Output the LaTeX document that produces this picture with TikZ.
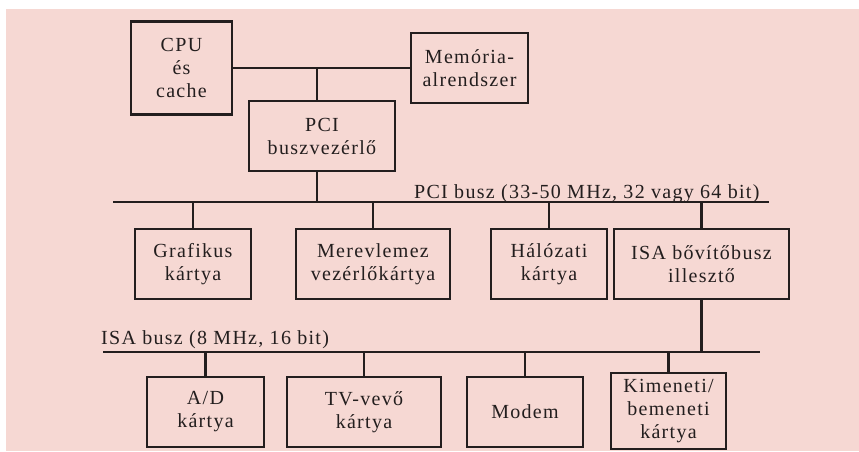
\documentclass[tikz,border=0pt]{standalone}
\usepackage{fontspec}
\setmainfont{Liberation Serif}[LetterSpace=6.5]
\definecolor{bgpink}{RGB}{246,216,211}
\definecolor{ink}{RGB}{35,30,30}
\begin{document}
\begin{tikzpicture}[x=1pt,y=-1pt,
  box/.style={draw=ink,line width=2.8pt,align=center,inner sep=0pt,
    font=\fontsize{20}{23}\selectfont,text=ink},
  wire/.style={draw=ink,line width=2.8pt},
  lbl/.style={font=\fontsize{20}{23}\selectfont,text=ink,inner sep=0pt}]
\useasboundingbox (0,0) rectangle (859,451);
\fill[white] (0,0) rectangle (859,451);
\fill[bgpink] (6,9) rectangle (859,451);
% top level
\node[box,minimum width=101pt,minimum height=93pt] (cpu) at (181.5,68) {CPU\\és\\cache};
\node[box,minimum width=117pt,minimum height=70pt] (mem) at (469.5,68) {Memória-\\alrendszer};
\node[box,minimum width=146pt,minimum height=70pt] (pcictl) at (322,136) {PCI\\buszvezérlő};
% PCI level
\node[box,minimum width=116pt,minimum height=70pt] (graf) at (193,264) {Grafikus\\kártya};
\node[box,minimum width=154pt,minimum height=70pt] (merev) at (373,264) {Merevlemez\\vezérlőkártya};
\node[box,minimum width=116pt,minimum height=70pt] (hal) at (549,264) {Hálózati\\kártya};
\node[box,minimum width=175pt,minimum height=70pt] (isabr) at (701.5,264) {ISA bővítőbusz\\illesztő};
% ISA level
\node[box,minimum width=117pt,minimum height=70pt] (ad) at (205.5,412) {A/D\\kártya};
\node[box,minimum width=154pt,minimum height=70pt] (tv) at (364,412) {TV-vevő\\kártya};
\node[box,minimum width=116pt,minimum height=70pt] (modem) at (525,412) {Modem};
\node[box,minimum width=115pt,minimum height=76pt] (kim) at (668.5,411) {Kimeneti/\\bemeneti\\kártya};
% bus coordinates
\coordinate (j1) at (317,68);
\coordinate (pciL) at (113,202);
\coordinate (pciR) at (769,202);
\coordinate (isaL) at (103,352);
\coordinate (isaR) at (760,352);
% connectors
\draw[wire] (cpu.east) -- (mem.west);
\draw[wire] (j1) -- (j1 |- pcictl.north);
\draw[wire] (j1 |- pcictl.south) -- (j1 |- pciL);
\draw[wire] (pciL) -- (pciR);
\draw[wire] (graf.north) -- (graf.north |- pciL);
\draw[wire] (merev.north) -- (merev.north |- pciL);
\draw[wire] (hal.north) -- (hal.north |- pciL);
\draw[wire] (isabr.north) -- (isabr.north |- pciL);
\draw[wire] (isabr.south) -- (isabr.south |- isaL);
\draw[wire] (isaL) -- (isaR);
\draw[wire] (ad.north) -- (ad.north |- isaL);
\draw[wire] (tv.north) -- (tv.north |- isaL);
\draw[wire] (modem.north) -- (modem.north |- isaL);
\draw[wire] (kim.north) -- (kim.north |- isaL);
% labels
\node[lbl,anchor=base west] (pcilbl) at (414,198) {PCI busz (33-50 MHz, 32 vagy 64 bit)};
\node[lbl,anchor=base west] (isalbl) at (101,344) {ISA busz (8 MHz, 16 bit)};
\end{tikzpicture}
\end{document}
